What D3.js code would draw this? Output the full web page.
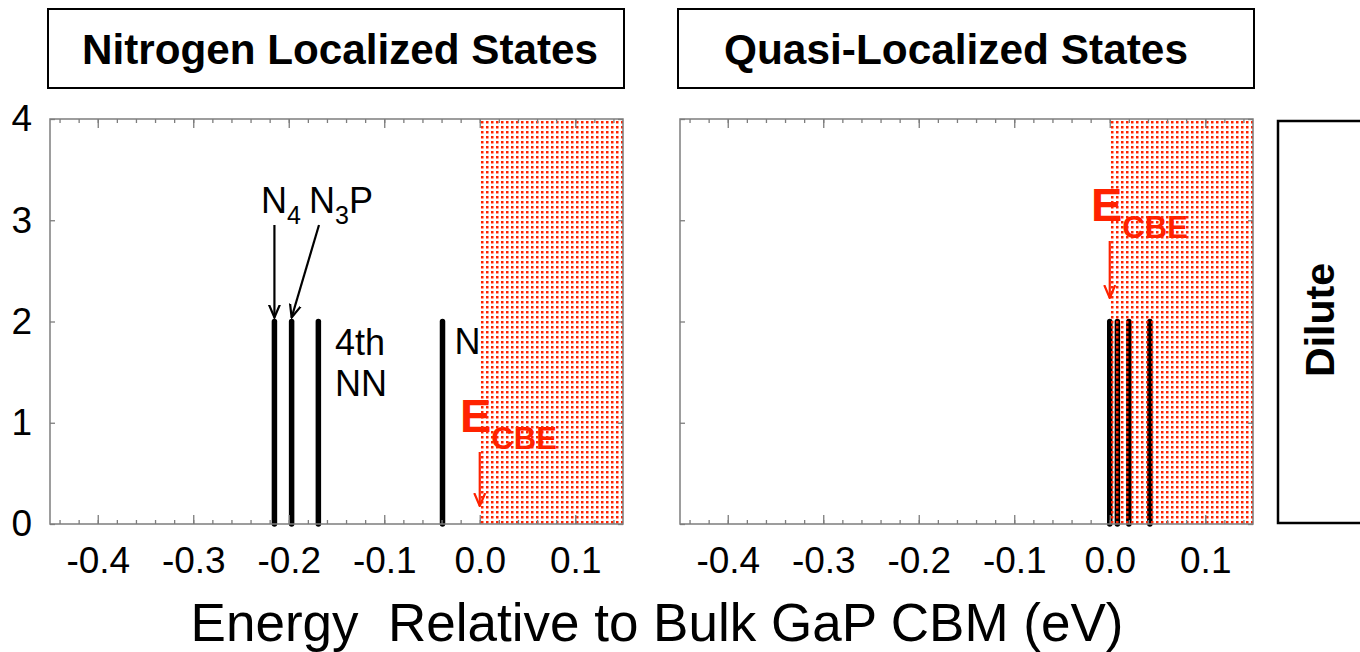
<!DOCTYPE html>
<html>
<head>
<meta charset="utf-8">
<script src="https://cdn.jsdelivr.net/npm/d3@7"></script>
<style>
  html, body { margin: 0; padding: 0; background: #fff; }
  svg { display: block; font-family: "Liberation Sans", Arial, Helvetica, sans-serif; }
</style>
</head>
<body>
<svg id="chart" width="1360" height="652"></svg>
<script>
// Energy window shared by both panels (eV, relative to bulk GaP CBM)
const energyDomain = [-0.45, 0.15];
const dosDomain = [0, 4];
const majorTicks = [-0.4, -0.3, -0.2, -0.1, 0.0, 0.1];
const minorTicks = d3.range(-44, 16, 2).map(v => v / 100);
const yTicks = [0, 1, 2, 3, 4];

// Panel titles
const panelTitles = ["Nitrogen Localized States", "Quasi-Localized States"];
const rowLabel = "Dilute";
const axisTitle = "Energy  Relative to Bulk GaP CBM (eV)";

// State energies (eV) and their plotted weight
const nitrogenStates = [-0.215, -0.197, -0.169, -0.039];
const nitrogenWeights = [2, 2, 2, 2];
const quasiStates = [0.000, 0.008, 0.020, 0.042];
const quasiWeights = [2, 2, 2, 2];

// Conduction band edge and the continuum above it
const cbeEnergy = 0.0;

const RED = "#ff2200";
const AXIS_GREY = "#7d7d7d";

const svg = d3.select("#chart");

const defs = svg.append("defs");
const pat = defs.append("pattern")
  .attr("id", "cbDots")
  .attr("patternUnits", "userSpaceOnUse")
  .attr("width", 5).attr("height", 5);
pat.append("rect").attr("x", 1).attr("y", 1).attr("width", 2.5).attr("height", 2.5).attr("fill", RED);

["arrowBlack", "arrowRed"].forEach((id, i) => {
  defs.append("marker")
    .attr("id", id)
    .attr("viewBox", "0 0 14 14")
    .attr("refX", 13).attr("refY", 7)
    .attr("markerWidth", 14).attr("markerHeight", 14)
    .attr("markerUnits", "userSpaceOnUse")
    .attr("orient", "auto")
    .append("path")
    .attr("d", "M0,1.5 L13,7 L0,12.5")
    .attr("fill", "none")
    .attr("stroke", i === 0 ? "#000" : RED)
    .attr("stroke-width", 2.2);
});

const y = d3.scaleLinear().domain(dosDomain).range([524, 119]);

const panels = [
  { x0: 50, x1: 623, title: panelTitles[0], titleX: 340, titleW: 516, states: nitrogenStates, weights: nitrogenWeights, yLabels: true },
  { x0: 680, x1: 1253, title: panelTitles[1], titleX: 956, titleW: 464, states: quasiStates, weights: quasiWeights, yLabels: false }
];

const fmt = d => (d < 0 ? "-" : "") + Math.abs(d).toFixed(1);

panels.forEach((p, idx) => {
  const x = d3.scaleLinear().domain(energyDomain).range([p.x0, p.x1]);
  p.x = x;
  const g = svg.append("g");

  // title box
  g.append("rect")
    .attr("x", p.x0 - 2).attr("y", 9)
    .attr("width", p.x1 - p.x0 + 3).attr("height", 79)
    .attr("fill", "none").attr("stroke", "#000").attr("stroke-width", 2);
  g.append("text")
    .attr("x", p.titleX).attr("y", 64)
    .attr("text-anchor", "middle")
    .attr("font-weight", "bold").attr("font-size", 42)
    .attr("textLength", p.titleW).attr("lengthAdjust", "spacingAndGlyphs")
    .text(p.title);

  // state lines
  g.selectAll("line.state")
    .data(p.states.map((e, i) => ({ e, w: p.weights[i] })))
    .join("line")
    .attr("class", "state")
    .attr("x1", d => x(d.e)).attr("x2", d => x(d.e))
    .attr("y1", y(0)).attr("y2", d => y(d.w))
    .attr("stroke", "#000").attr("stroke-width", 5.5)
    .attr("stroke-linecap", "round");

  p.g = g;
});

// annotations in the nitrogen panel
{
  const p = panels[0], x = p.x, g = p.g;
  const ann = g.append("g").attr("font-size", 36);
  const n4 = ann.append("text").attr("x", 261).attr("y", 213);
  n4.append("tspan").text("N");
  n4.append("tspan").attr("font-size", 25).attr("dy", 11).text("4");
  const n3p = ann.append("text").attr("x", 309).attr("y", 213);
  n3p.append("tspan").text("N");
  n3p.append("tspan").attr("font-size", 25).attr("dy", 11).text("3");
  n3p.append("tspan").attr("dy", -11).text("P");

  ann.append("text").attr("x", 335).attr("y", 355).text("4th");
  ann.append("text").attr("x", 335).attr("y", 396).text("NN");
  ann.append("text").attr("x", x(nitrogenStates[3]) + 12).attr("y", 354).text("N");

  g.append("line")
    .attr("x1", x(nitrogenStates[0])).attr("y1", 225)
    .attr("x2", x(nitrogenStates[0])).attr("y2", y(2) - 4)
    .attr("stroke", "#000").attr("stroke-width", 2.2)
    .attr("marker-end", "url(#arrowBlack)");
  g.append("line")
    .attr("x1", 319).attr("y1", 225)
    .attr("x2", x(nitrogenStates[1])).attr("y2", y(2) - 4)
    .attr("stroke", "#000").attr("stroke-width", 2.2)
    .attr("marker-end", "url(#arrowBlack)");
}

// conduction band continuum, CBE labels and axes
const cbeLabelPos = [ { ex: 460, ey: 432, arrowTop: 452, arrowBot: 506 },
                      { ex: 1091, ey: 221, arrowTop: 241, arrowBot: 298 } ];

panels.forEach((p, idx) => {
  const x = p.x, g = p.g;
  const c = cbeLabelPos[idx];

  const lbl = g.append("text")
    .attr("x", c.ex).attr("y", c.ey)
    .attr("fill", RED).attr("font-weight", "bold").attr("font-size", 47);
  lbl.append("tspan").text("E");
  lbl.append("tspan").attr("font-size", 31).attr("dy", 17).text("CBE");

  g.append("line")
    .attr("x1", x(cbeEnergy)).attr("y1", c.arrowTop)
    .attr("x2", x(cbeEnergy)).attr("y2", c.arrowBot)
    .attr("stroke", RED).attr("stroke-width", 2.2)
    .attr("marker-end", "url(#arrowRed)");

  g.append("rect")
    .attr("x", x(cbeEnergy)).attr("y", y(dosDomain[1]))
    .attr("width", x(energyDomain[1]) - x(cbeEnergy))
    .attr("height", y(dosDomain[0]) - y(dosDomain[1]))
    .attr("fill", "url(#cbDots)");

  // frame
  g.append("rect")
    .attr("x", p.x0).attr("y", y(4))
    .attr("width", p.x1 - p.x0).attr("height", y(0) - y(4))
    .attr("fill", "none").attr("stroke", AXIS_GREY).attr("stroke-width", 1.5);

  const axStyle = sel => {
    sel.select(".domain").remove();
    sel.selectAll(".tick line").attr("stroke", AXIS_GREY).attr("stroke-width", 1.3);
  };

  // bottom: minor + major ticks with labels
  g.append("g").attr("transform", `translate(0,${y(0)})`)
    .call(d3.axisBottom(x).tickValues(minorTicks).tickSizeInner(-4).tickSizeOuter(0).tickFormat(""))
    .call(axStyle);
  g.append("g").attr("transform", `translate(0,${y(0)})`)
    .call(d3.axisBottom(x).tickValues(majorTicks).tickSizeInner(-9).tickSizeOuter(0).tickPadding(23).tickFormat(fmt))
    .call(axStyle)
    .call(s => s.selectAll("text").attr("font-size", 37).attr("fill", "#000")
      .attr("font-family", "Liberation Sans, Arial, sans-serif"));

  // top: mirrored ticks
  g.append("g").attr("transform", `translate(0,${y(4)})`)
    .call(d3.axisTop(x).tickValues(minorTicks).tickSizeInner(-4).tickSizeOuter(0).tickFormat(""))
    .call(axStyle);
  g.append("g").attr("transform", `translate(0,${y(4)})`)
    .call(d3.axisTop(x).tickValues(majorTicks).tickSizeInner(-9).tickSizeOuter(0).tickFormat(""))
    .call(axStyle);

  // left and right
  const left = g.append("g").attr("transform", `translate(${p.x0},0)`)
    .call(d3.axisLeft(y).tickValues(yTicks).tickSizeInner(-5).tickSizeOuter(0).tickPadding(18)
      .tickFormat(p.yLabels ? d3.format("d") : ""))
    .call(axStyle);
  left.selectAll("text").attr("font-size", 37).attr("fill", "#000")
    .attr("font-family", "Liberation Sans, Arial, sans-serif");
  g.append("g").attr("transform", `translate(${p.x1},0)`)
    .call(d3.axisRight(y).tickValues(yTicks).tickSizeInner(-5).tickSizeOuter(0).tickFormat(""))
    .call(axStyle);
});

// row label box
svg.append("rect")
  .attr("x", 1278).attr("y", 121).attr("width", 110).attr("height", 402)
  .attr("fill", "none").attr("stroke", "#000").attr("stroke-width", 2.5);
svg.append("text")
  .attr("transform", `translate(1334,${(121 + 523) / 2 - 2}) rotate(-90)`)
  .attr("text-anchor", "middle")
  .attr("font-weight", "bold").attr("font-size", 41)
  .text(rowLabel);

// shared x-axis title
svg.append("text")
  .attr("x", 657).attr("y", 641)
  .attr("text-anchor", "middle")
  .attr("font-size", 53)
  .attr("xml:space", "preserve")
  .style("white-space", "pre")
  .text(axisTitle);
</script>
</body>
</html>
